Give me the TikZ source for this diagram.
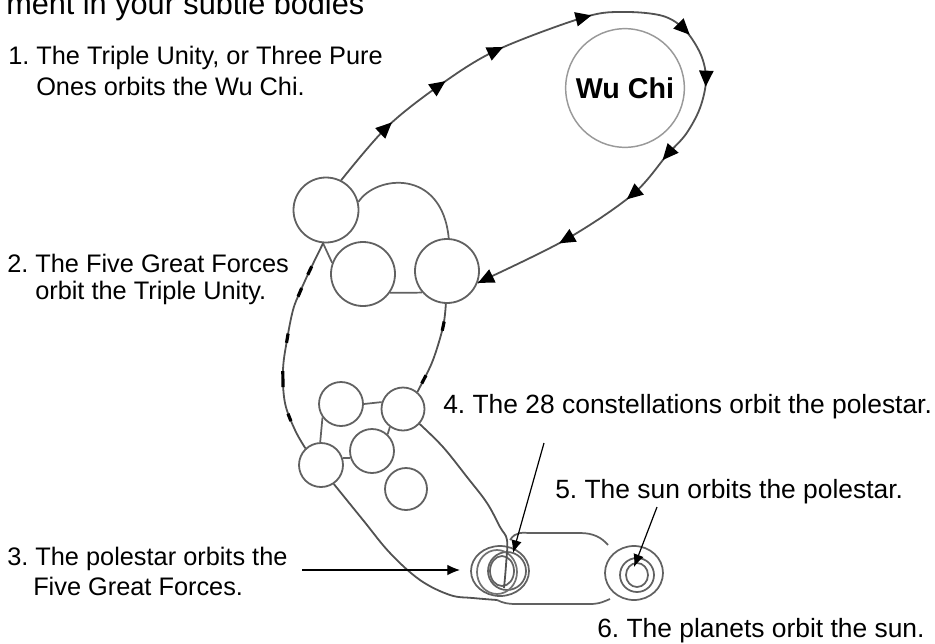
\documentclass[tikz,border=0pt]{standalone}
\usepackage{fontspec}
\setmainfont{Liberation Sans}
\usetikzlibrary{arrows.meta,decorations.markings}
\frenchspacing
\begin{document}
\begin{tikzpicture}[x=0.75pt,y=-0.75pt,
  orb/.style={circle,draw=black!62,line width=1.35pt,inner sep=0pt,minimum size=#1*1.5pt},
  ring/.style={draw=black!62,line width=1.3pt},
  orbitline/.style={draw=black!68,line width=1.35pt},
  noteline/.style={draw=black,line width=0.9pt,-{Latex[length=9.5pt,width=8pt]}},
  labeltext/.style={anchor=base west,inner sep=0pt,font=\fontsize{19}{23}\selectfont,text=black},
  labeltextb/.style={labeltext,font=\fontsize{19.8}{23}\selectfont},
  tri/.pic={\fill[black] (5pt,0pt) -- (-7pt,5.5pt) -- (-7pt,-5.5pt) -- cycle;},
]
\useasboundingbox (0,0) rectangle (935,643);

% ---------- texts ----------
\node[labeltext,font=\fontsize{23}{27}\selectfont] (t0) at (6,14) {ment in your subtle bodies};
\node[labeltext] (t1a) at (8,64) {1. The Triple Unity, or Three Pure};
\node[labeltext] (t1b) at (36,95) {Ones orbits the Wu Chi.};
\node[labeltext] (t2a) at (7,272) {2. The Five Great Forces};
\node[labeltext] (t2b) at (35,299) {orbit the Triple Unity.};
\node[labeltext] (t3a) at (7,565) {3. The polestar orbits the};
\node[labeltext] (t3b) at (33,595) {Five Great Forces.};
\node[labeltextb] (t4) at (443,413) {4. The 28 constellations orbit the polestar.};
\node[labeltextb] (t5) at (555,498) {5. The sun orbits the polestar.};
\node[labeltextb] (t6) at (597,637) {6. The planets orbit the sun.};

% ---------- Wu Chi ----------
\node[circle,draw=black!40,line width=1.1pt,inner sep=0pt,minimum size=89pt,
      font=\bfseries\fontsize{21.5}{24}\selectfont,text=black] (wu) at (625,88) {Wu Chi};

% ---------- Triple Unity ----------
\node[orb=32.5] (A) at (326,210) {};
\node[orb=32]   (B) at (363,274) {};
\node[orb=32]   (C) at (447,271) {};
\draw[ring] (A.14) .. controls (376,175) and (442,168) .. (C.87);
\draw[ring] (A.265) -- (B.160);
\draw[ring] (B.325) -- (C.221);

% ---------- Five Great Forces ----------
\node[orb=22]   (D) at (341,404) {};
\node[orb=21.5] (E) at (403,409) {};
\node[orb=22]   (F) at (321,465) {};
\node[orb=22]   (G) at (372,451) {};
\node[orb=21]   (H) at (406,489) {};
\draw[ring] (D.0) -- (E.162);
\draw[ring] (D.216) -- (F.92);
\draw[ring] (F.18) -- (G.198);
\draw[ring] (E.234) -- (G.47);

% ---------- orbit of the Triple Unity round the Wu Chi ----------
\draw[orbitline] plot[smooth,tension=0.55] coordinates {(A.63) (387,127) (440,85) (497,50) (585,17) (625,12) (663,16) (685,30) (701,55) (706,80) (700,108) (686,134) (667,155) (632,195) (565,240) (C.339)};
\pic[rotate=43.5] at (387,127) {tri};
\pic[rotate=35]   at (440,85)  {tri};
\pic[rotate=25]   at (497,50)  {tri};
\pic[rotate=14]   at (585,17)  {tri};
\pic[rotate=-45]  at (685,30)  {tri};
\pic[rotate=-92]  at (706,80)  {tri};
\pic[rotate=-131] at (667,155) {tri};
\pic[rotate=-140] at (632,195) {tri};
\pic[rotate=-150] at (565,240) {tri};
\pic[rotate=-154] at (484,280) {tri};

% ---------- orbit of the Five Great Forces round the Triple Unity ----------
\draw[orbitline,postaction={decorate},
  decoration={markings,
    mark=at position 0.14 with {\draw[black,line width=2.4pt] (-3.5pt,0)--(3.5pt,0);},
    mark=at position 0.25 with {\draw[black,line width=2.4pt] (-3.5pt,0)--(3.5pt,0);},
    mark=at position 0.47 with {\draw[black,line width=2.4pt] (-3.5pt,0)--(3.5pt,0);},
    mark=at position 0.66 with {\draw[black,line width=2.4pt] (-6pt,0)--(6pt,0);},
    mark=at position 0.84 with {\draw[black,line width=2.4pt] (-3pt,0)--(3pt,0);}}]
  plot[smooth,tension=0.6] coordinates {(A.265) (310,270) (300,292) (293,310) (287,340) (283,370) (285,403) (295,430) (F.133)};
\draw[orbitline,postaction={decorate},
  decoration={markings,
    mark=at position 0.24 with {\draw[black,line width=2.4pt] (-3.5pt,0)--(3.5pt,0);},
    mark=at position 0.85 with {\draw[black,line width=2.4pt] (-3.5pt,0)--(3.5pt,0);}}]
  plot[smooth,tension=0.6] coordinates {(C.268) (443,327) (433,360) (422,383) (E.50)};

% ---------- polestar ----------
\coordinate (P) at (500,571);
\draw[ring] (P) ellipse [x radius=29,y radius=25];
\draw[ring] (507,571) circle [radius=19];
\draw[ring] (502,571) ellipse [x radius=12,y radius=15];
\draw[ring,black!55] (497,572) ellipse [x radius=20,y radius=22];

% ---------- orbit of the polestar round the Five Great Forces ----------
\draw[orbitline] plot[smooth,tension=0.6] coordinates {(F.304) (363,520) (390,553) (420,580) (450,595) (473,598) (497,600)};
\draw[orbitline] plot[smooth,tension=0.6] coordinates {(E.318) (443,447) (467,477) (487,503) (500,527) (507,540) (506,565) (504,588)};

% ---------- sun ----------
\coordinate (S) at (634,573);
\draw[ring] (S) ellipse [x radius=29,y radius=27];
\draw[ring] (637,575) circle [radius=17];
\draw[ring] (637,575) ellipse [x radius=11,y radius=12];

% ---------- orbit of the sun round the polestar ----------
\coordinate (pstop) at (510,540);
\coordinate (sunl) at (608,545);
\coordinate (psbot) at (497,600);
\coordinate (sunb) at (610,599);
\draw[ring] (pstop) .. controls (516,531) and (522,533) .. (532,533) -- (580,533) .. controls (594,533) and (602,538) .. (sunl);
\draw[ring] (psbot) .. controls (503,603) and (508,604) .. (516,604) -- (590,604) .. controls (600,604) and (605,601) .. (sunb);

% ---------- annotation arrows ----------
\coordinate (a3s) at (302,570);
\coordinate (a3e) at (460,570);
\coordinate (a4s) at (544,443);
\coordinate (a4e) at (513,553);
\coordinate (a5s) at (657,507);
\coordinate (a5e) at (634,567);
\draw[noteline] (a3s) -- (a3e);
\draw[noteline] (a4s) -- (a4e);
\draw[noteline] (a5s) -- (a5e);
\end{tikzpicture}
\end{document}
